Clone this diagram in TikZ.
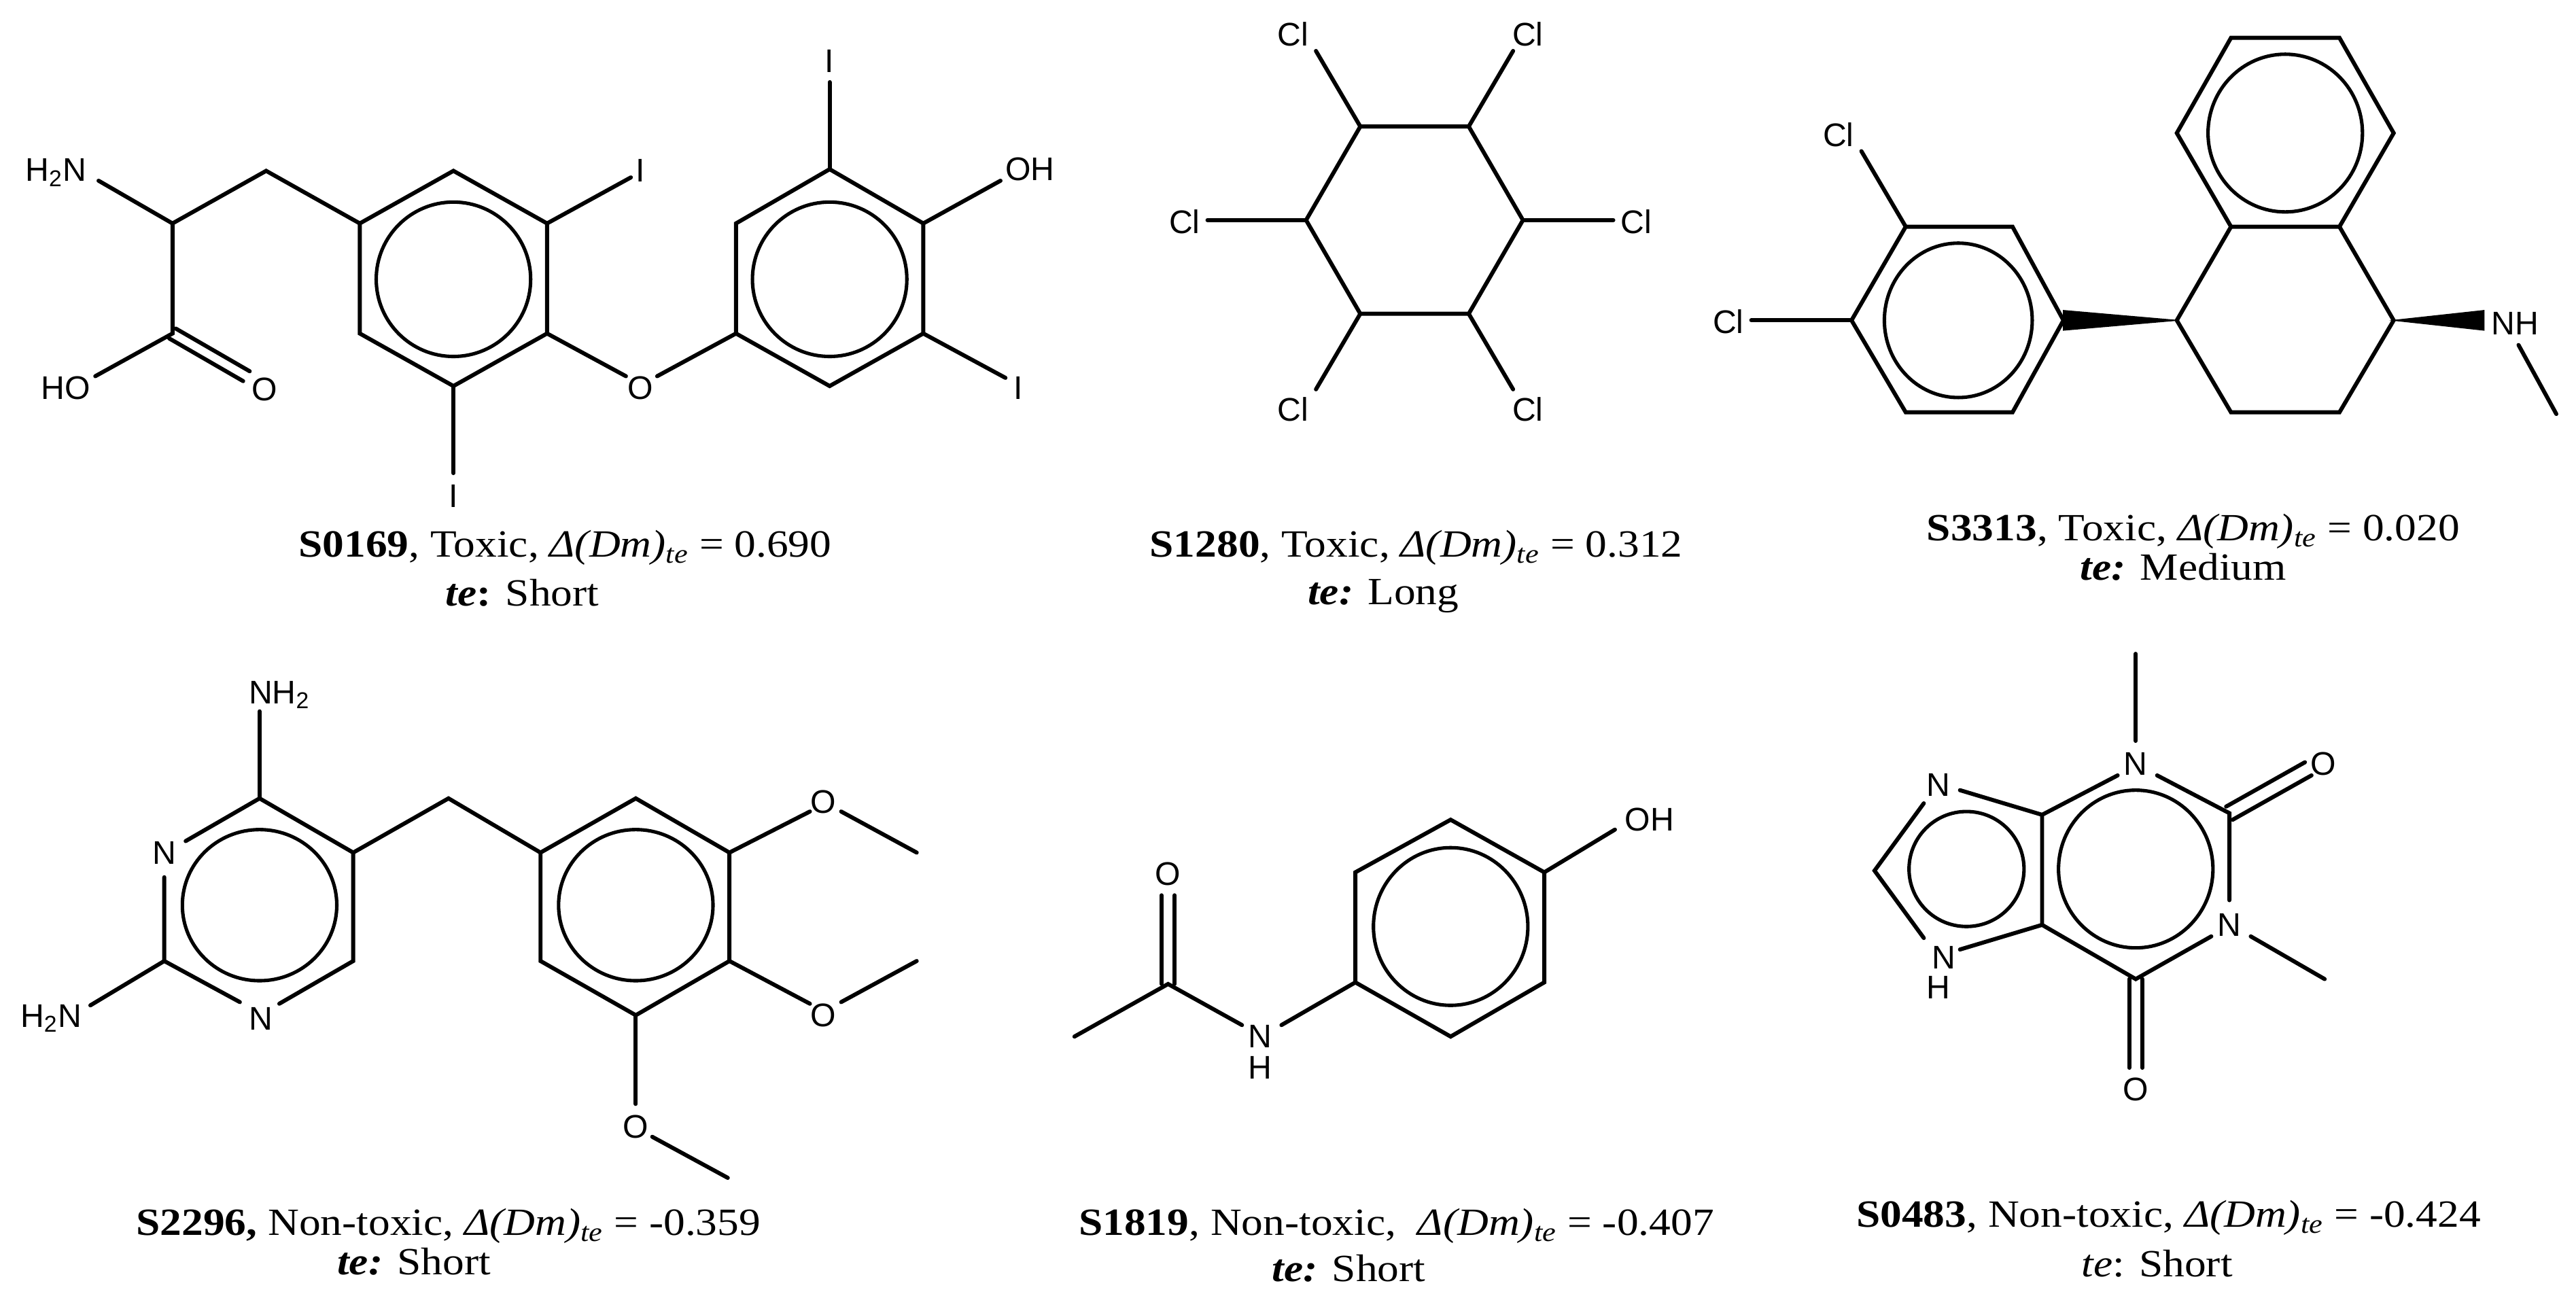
\documentclass[tikz,border=0pt]{standalone}
\usepackage{fontspec}
\setmainfont{Liberation Serif}[FakeStretch=1.12]
\newfontfamily\atomfont{Liberation Sans}
\tikzset{
  bond/.style={line width=2.1pt, line cap=round, line join=miter},
  ringc/.style={line width=1.8pt},
  wedge/.style={fill=black, draw=black, line width=0.5pt},
  lbl/.style={font=\atomfont\fontsize{17}{17}\selectfont, inner sep=0pt},
  captxt/.style={font=\fontsize{20}{22}\selectfont, inner sep=0pt, anchor=base}
}
\newcommand{\dmte}{\textit{Δ(Dm)}\textsubscript{\textit{te}}}
\begin{document}
\begin{tikzpicture}[x=0.03cm,y=-0.03cm]
\useasboundingbox (0,0) rectangle (1568,798);
\fill[white] (0,0) rectangle (1568,798);
% ===== S0169 =====
\node[lbl] (m1nh) at (34,105) {H\textsubscript{2}N};
\draw[bond] (60,110) -- (105,136) -- (162,104) -- (219,136);
\draw[bond] (219,136) -- (276,104) -- (333,136) -- (333,203) -- (276,235) -- (219,203) -- cycle;
\draw[ringc] (276,170) circle (47);
\draw[bond] (333,136) -- (384,108);
\node[lbl] (m1i1) at (390,104) {I};
\draw[bond] (276,235) -- (276,288);
\node[lbl] (m1i2) at (276,302) {I};
\draw[bond] (333,203) -- (381,229);
\node[lbl] (m1o) at (390,236) {O};
\draw[bond] (400,229) -- (448,203);
\draw[bond] (448,203) -- (448,136) -- (505,103) -- (562,136) -- (562,203) -- (505,235) -- cycle;
\draw[ringc] (505,170) circle (47);
\draw[bond] (505,103) -- (505,50);
\node[lbl] (m1i3) at (505,37) {I};
\draw[bond] (562,136) -- (609,110);
\node[lbl] (m1oh) at (627,103) {OH};
\draw[bond] (562,203) -- (612,230);
\node[lbl] (m1i4) at (620,236) {I};
\draw[bond] (105,136) -- (105,203) -- (58,229);
\node[lbl] (m1ho) at (40,236) {HO};
\draw[bond] (107,200) -- (152,226);
\draw[bond] (103,206) -- (148,232);
\node[lbl] (m1o2) at (161,237) {O};
\node[captxt] (c1a) at (344,339) {\textbf{S0169}, Toxic, \dmte{} = 0.690};
\node[captxt] (c1b) at (318,369) {\textbf{\textit{te}:} Short};
% ===== S1280 =====
\draw[bond] (828,77) -- (894,77) -- (927,134) -- (894,191) -- (828,191) -- (795,134) -- cycle;
\draw[bond] (828,77) -- (801,31);  \node[lbl] (m2c1) at (787,21) {Cl};
\draw[bond] (894,77) -- (921,31);  \node[lbl] (m2c2) at (930,21) {Cl};
\draw[bond] (795,134) -- (735,134); \node[lbl] (m2c3) at (721,135) {Cl};
\draw[bond] (927,134) -- (982,134); \node[lbl] (m2c4) at (996,135) {Cl};
\draw[bond] (828,191) -- (801,237); \node[lbl] (m2c5) at (787,249) {Cl};
\draw[bond] (894,191) -- (921,237); \node[lbl] (m2c6) at (930,249) {Cl};
\node[captxt] (c2a) at (862,339) {\textbf{S1280}, Toxic, \dmte{} = 0.312};
\node[captxt] (c2b) at (842,368) {\textbf{\textit{te:}} Long};
% ===== S3313 =====
\draw[bond] (1358,23) -- (1424,23) -- (1457,81) -- (1424,138) -- (1358,138) -- (1325,81) -- cycle;
\draw[ringc] (1391,81) ellipse (47 and 48);
\draw[bond] (1424,138) -- (1457,195) -- (1424,251) -- (1358,251) -- (1325,195) -- (1358,138);
\draw[bond] (1160,138) -- (1225,138) -- (1256,195) -- (1225,251) -- (1160,251) -- (1127,195) -- cycle;
\draw[ringc] (1192,195) ellipse (45 and 47);
\fill[wedge] (1325,195) -- (1256,189) -- (1256,201) -- cycle;
\fill[wedge] (1457,195) -- (1512,189) -- (1512,201) -- cycle;
\node[lbl] (m3nh) at (1531,197) {NH};
\draw[bond] (1533,210) -- (1556,252);
\draw[bond] (1160,138) -- (1133,92);
\node[lbl] (m3c1) at (1119,82) {Cl};
\draw[bond] (1127,195) -- (1066,195);
\node[lbl] (m3c2) at (1052,196) {Cl};
\node[captxt] (c3a) at (1335,329) {\textbf{S3313}, Toxic, \dmte{} = 0.020};
\node[captxt] (c3b) at (1329,353) {\textbf{\textit{te:}} Medium};
% ===== S2296 =====
\node[lbl] (m4nh2) at (170,423) {NH\textsubscript{2}};
\draw[bond] (158,433) -- (158,486);
\draw[bond] (113,512) -- (158,486) -- (215,519) -- (215,585) -- (170,611);
\node[lbl] (m4n3) at (100,519) {N};
\node[lbl] (m4n1) at (159,620) {N};
\draw[bond] (100,534) -- (100,585) -- (146,610);
\draw[ringc] (158,551) ellipse (47 and 46);
\draw[bond] (100,585) -- (55,612);
\node[lbl] (m4h2n) at (31,620) {H\textsubscript{2}N};
\draw[bond] (215,519) -- (273,486) -- (329,519);
\draw[bond] (329,519) -- (387,486) -- (444,519) -- (444,585) -- (387,618) -- (329,585) -- cycle;
\draw[ringc] (387,551) ellipse (47 and 46);
\draw[bond] (444,519) -- (493,494); \node[lbl] (m4o1) at (501,488) {O};
\draw[bond] (512,494) -- (558,519);
\draw[bond] (444,585) -- (493,611); \node[lbl] (m4o2) at (501,618) {O};
\draw[bond] (512,610) -- (558,585);
\draw[bond] (387,618) -- (387,672); \node[lbl] (m4o3) at (387,686) {O};
\draw[bond] (397,692) -- (443,717);
\node[captxt] (c4a) at (273,752) {\textbf{S2296,} Non-toxic, \dmte{} = -0.359};
\node[captxt] (c4b) at (252,776) {\textbf{\textit{te:}} Short};
% ===== S1819 =====
\draw[bond] (654,631) -- (711,599) -- (756,624);
\draw[bond] (707,599) -- (707,545);
\draw[bond] (715,599) -- (715,545);
\node[lbl] (m5o) at (711,532) {O};
\node[lbl] (m5n) at (767,631) {N};
\node[lbl] (m5h) at (767,650) {H};
\draw[bond] (780,624) -- (825,598);
\draw[bond] (825,598) -- (825,531) -- (883,499) -- (940,531) -- (940,598) -- (883,631) -- cycle;
\draw[ringc] (883,564) ellipse (47 and 48);
\draw[bond] (940,531) -- (983,505);
\node[lbl] (m5oh) at (1004,499) {OH};
\node[captxt] (c5a) at (850,752) {\textbf{S1819}, Non-toxic, \ \dmte{} = -0.407};
\node[captxt] (c5b) at (821,780) {\textbf{\textit{te:}} Short};
% ===== S0483 =====
\draw[bond] (1300,398) -- (1300,451);
\node[lbl] (m6n3) at (1300,465) {N};
\draw[bond] (1313,472) -- (1357,495) -- (1357,548);
\draw[bond] (1355,491) -- (1403,464);
\draw[bond] (1359,499) -- (1407,472);
\node[lbl] (m6o1) at (1414,465) {O};
\node[lbl] (m6n1) at (1357,563) {N};
\draw[bond] (1370,570) -- (1415,596);
\draw[bond] (1346,570) -- (1300,596) -- (1243,563) -- (1243,496) -- (1289,472);
\draw[bond] (1296,596) -- (1296,650);
\draw[bond] (1304,596) -- (1304,650);
\node[lbl] (m6o2) at (1300,663) {O};
\draw[ringc] (1300,529) ellipse (47 and 48);
\node[lbl] (m6n7) at (1180,478) {N};
\draw[bond] (1243,496) -- (1193,481);
\draw[bond] (1171,489) -- (1141,530) -- (1171,571);
\node[lbl] (m6n9) at (1183,583) {N};
\node[lbl] (m6h) at (1180,601) {H};
\draw[bond] (1193,578) -- (1243,563);
\draw[ringc] (1197,529) ellipse (35 and 35);
\node[captxt] (c6a) at (1320,747) {\textbf{S0483}, Non-toxic, \dmte{} = -0.424};
\node[captxt] (c6b) at (1313,777) {\textit{te}: Short};
\end{tikzpicture}
\end{document}
